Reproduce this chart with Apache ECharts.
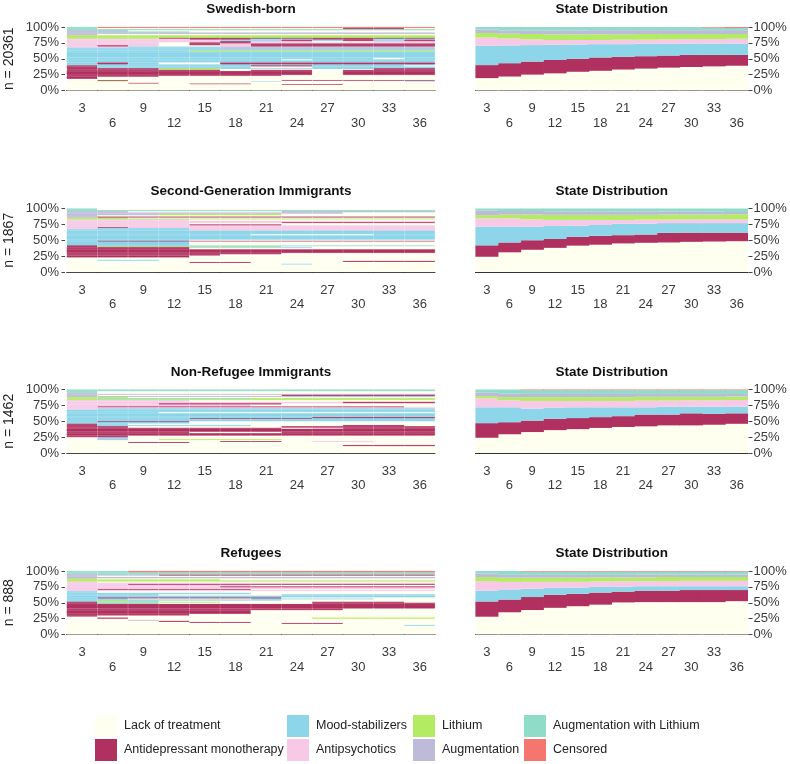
<!DOCTYPE html>
<html>
<head>
<meta charset="utf-8">
<script src="https://cdn.jsdelivr.net/npm/echarts@6/dist/echarts.min.js"></script>
<style>
  html, body { margin: 0; padding: 0; background: #fff; }
  #chart { width: 790px; height: 764px; }
</style>
</head>
<body>
<div id="chart"></div>
<script>
const periods = ['3', '6', '9', '12', '15', '18', '21', '24', '27', '30', '33', '36'];

const stateNames = ['Lack of treatment', 'Antidepressant monotherapy', 'Mood-stabilizers', 'Antipsychotics',
  'Lithium', 'Augmentation', 'Augmentation with Lithium', 'Censored'];
const stateCodes = ['L', 'A', 'M', 'P', 'T', 'G', 'W', 'C'];
const stateColors = ['#FFFFF0', '#B0305F', '#8DD6EA', '#F7C9E6', '#B3EB62', '#BEBADA', '#8FDCC8', '#F4766F'];

const groupNames = ['Swedish-born', 'Second-Generation Immigrants', 'Non-Refugee Immigrants', 'Refugees'];
const groupSizes = [20361, 1867, 1462, 888];

// sequence index plots: bands from bottom to top, [share %, state code per period]
const swedishSeq = [
  [9.0, 'LLLLLLLLLLLL'], [1.2, 'LLLLLLLAALLL'], [1.2, 'LLLLAALLLLLL'], [1.0, 'LLALLLLLLLLL'],
  [1.4, 'LLLLLLLLLLLL'], [1.0, 'LLLLLLMLLLLM'], [0.8, 'LTLLLLLLLLLL'], [1.0, 'LALLLLLAAAAA'],
  [1.8, 'LLLLLLLLLLLL'],
  [3.6, 'ALLLLLLLLLLL'], [1.5, 'AAALLLLLLLLL'], [1.0, 'AAAAAAALLLLL'], [6.5, 'AAAAAAAALAAA'],
  [2.0, 'AAAAALAALAAA'], [1.2, 'AAATTLLLLLAA'], [1.0, 'AAATTMMMMMAA'], [2.8, 'AMMMMMLLMMMM'],
  [1.8, 'AMMMMMAAMMML'],
  [1.5, 'MMMMMMMMMMMM'], [3.0, 'MAMLLAAAAAAA'], [3.5, 'MMMMMMMMMMMM'], [1.5, 'MMMMMMMLMMMM'],
  [2.5, 'MMMMMMMMMMLM'], [9.0, 'MMMMMMMMMMMM'], [2.0, 'MMMMTTTTTTTT'], [2.6, 'MMMMMMMMMMMM'],
  [2.5, 'MMMMMGGGGGGG'],
  [1.5, 'PPMMMGGGGGGG'], [2.0, 'PAPLLPAAAAAA'], [3.0, 'PPPLAPAAAAAA'], [1.5, 'PPPLAAPPPPPP'],
  [2.0, 'PPPPPAPPLLPP'], [2.5, 'PPPPPMMAMAMA'], [1.7, 'PPPPAAMMAAMM'],
  [1.0, 'TTTAAAAAAAAA'], [4.1, 'TTTTTTTTTTTT'],
  [2.0, 'GLLLLLLLLLLL'], [2.5, 'GGGGGGGGGGGG'], [1.5, 'GWWWLLLLLLLL'], [1.7, 'GGLLLLLLLLLL'],
  [2.0, 'WWWWWWWWWWWW'], [1.6, 'WLLLLLLLLAAL'], [1.5, 'WCCCCCCCCCCC']
];
const secondGenSeq = [
  [12.0, 'LLLLLLLLLLLL'], [1.5, 'LLLLLLLMLLLL'], [1.0, 'LLLLLLLLLLLL'], [1.5, 'LLLLAALLLLLL'],
  [2.0, 'LLLLLLLLLAAA'], [1.5, 'LMMLLLLLLLLL'], [3.5, 'LLLLLLLLLLLL'],
  [3.0, 'AAAALLLLLLLL'], [2.0, 'AAAAALLLLLLL'], [2.0, 'AAAAAAALLLLL'], [6.0, 'AAAAAAAAAAAA'],
  [2.5, 'AAAALLLLLLLL'], [1.5, 'AAAAMMMMLLLL'], [1.0, 'ATTTTTTLLLLL'], [1.0, 'AMMMMMMMMMMM'],
  [6.5, 'MMMMLLLLLLLL'], [1.0, 'MAAAAAAAAAAA'], [1.5, 'MMMMLLLLLLLL'], [7.0, 'MMMMMMMMMMMM'],
  [1.5, 'MMMMMMLLLLMM'], [6.0, 'MMMMMMMMMMMM'], [2.2, 'MMMMPPPPPPPP'],
  [2.0, 'PMMMPPPPPPPP'], [1.0, 'PAPPPPPPPPPP'], [3.0, 'PPPPPPPPPPPP'], [1.5, 'PPPPAAALLLLL'],
  [2.0, 'PPPPLLLLLLLL'], [1.5, 'PPPPPPPAAAAA'], [2.3, 'PPPPPPPPPPPP'], [2.0, 'PPPPLLLLLLLL'],
  [1.5, 'TTTTTTTTTTTT'], [1.5, 'TTLLLLLLLLLL'],
  [1.5, 'GAAAAAAAAAAA'], [2.0, 'GLLLLLLLLLLL'], [2.5, 'GGGTTTTLLLLL'], [2.0, 'GGGGGGGGGLLL'],
  [2.0, 'GGLLLLLGGGGG'],
  [2.0, 'WWWWWWWWWWWW'], [2.0, 'WLLLLLLLLLLL']
];
const nonRefugeeSeq = [
  [11.0, 'LLLLLLLLLLLL'], [2.0, 'LLLLLLLLLAAA'], [3.0, 'LLLLLLLLLLLL'], [1.5, 'LLAALLLLLLLL'],
  [1.5, 'LLLLLAALPPLL'], [1.5, 'LLLLLLLLLLLL'], [1.5, 'LGLTTTTLLLLL'], [3.0, 'LMLLLLLLLLLL'],
  [2.5, 'AALLLLLLLLLL'], [4.0, 'AAAAAAAAAAAA'], [2.0, 'AAAALLLAAAAA'], [5.0, 'AAAAAAAAAAAA'],
  [1.5, 'AAAAAAALPAAA'], [2.5, 'AALLLLLAAAAA'], [2.0, 'AMMMMMLLLAAL'], [2.0, 'AMLLLLLLLLLL'],
  [2.5, 'MMMMLLLLLLLL'], [1.0, 'MAAALLLLLLLL'], [4.0, 'MMMMMMMMMMMM'], [1.0, 'MMMMAAAAMMMM'],
  [2.0, 'MMMMMMMMAAAA'], [6.0, 'MMMMMMMMMMMM'], [1.5, 'MMMLLLLLLLLL'], [4.0, 'MMMMMMMMMMMM'],
  [2.0, 'PMMMMMMMMMMM'], [2.0, 'PPPPPPPPPPPP'], [1.0, 'PAAAAAAAAAAL'], [3.0, 'PPPPPPLLLLLL'],
  [2.0, 'PPPAAAALLLLL'], [2.5, 'PPPPPPPPPAAA'], [2.5, 'PPPPLLLLLLLL'],
  [2.0, 'TTTTTTTTTTTT'], [1.5, 'TWWWWWTTTTTT'], [1.5, 'TTLLLLLLLLLL'],
  [1.5, 'GGGGGGGGGGGG'], [2.0, 'GLLLLLLAAAAA'], [1.5, 'GGGGGGGGGGGG'], [1.5, 'GLLLLLLLLLLL'],
  [2.5, 'WLLLLLLLLLLL'], [2.5, 'WWWWWWWWWWWW']
];
const refugeeSeq = [
  [14.0, 'LLLLLLLLLLLL'], [1.5, 'LLLLLLLLLLLM'], [1.5, 'LLLLLLLLLLLL'], [1.5, 'LLLLLLLAALLL'],
  [1.5, 'LLLLAALLLLLL'], [2.0, 'LLLALLLLLLLL'], [1.5, 'LLGLLLLLLLLL'], [1.5, 'LLLLLLLLLLLL'],
  [2.0, 'LALLLLLLTTTT'], [1.5, 'LLLLLLLLLLLL'],
  [1.5, 'ALLLLLLLLLLL'], [2.5, 'AAAALLLLLLLL'], [6.0, 'AAAAAALLLLLL'], [2.5, 'AAAAAAAAALLL'],
  [7.5, 'AAAAAAAAAAAA'], [2.0, 'AMMLLLLLAAAA'], [1.5, 'ATTTTLLLAAAL'],
  [1.5, 'MTMLLLLLLLLL'], [2.0, 'MMMMMMMLLLLL'], [1.5, 'MMLLLLMMMMLL'], [1.5, 'MAAAAAALLLLL'],
  [3.0, 'MMMMMMMMMMMM'], [2.0, 'MMMLLLLMMMMM'], [2.5, 'MMMMMMLLLLLL'], [2.5, 'MLLLLLLLLLLL'],
  [2.0, 'PPPPPPPPPPPP'], [1.0, 'PAAAAALLLLLL'], [3.0, 'PPPPPPPPPPPP'], [1.5, 'PPPPPAAAAAAA'],
  [2.5, 'PPPPPPLLLLLL'], [1.5, 'PPAAAAAAAAAA'], [2.0, 'PPPPPPPPPPPP'], [1.5, 'PLLLLLLLLLLL'],
  [2.0, 'TTTTTTTTTTTT'], [1.5, 'TTTTTLLLLLLL'], [1.5, 'TLLLLLLLLLLL'],
  [2.5, 'GGGGGGGGGGGG'], [2.0, 'GLLLLLLLLLLL'], [1.5, 'GGGAAAAAAAAA'], [1.5, 'GWWWWWWWWWWW'],
  [2.0, 'WWWWWWWWWWWW'], [2.0, 'WWCCCCCCCCCC']
];

// state distributions, % per period, one row per state (same order as stateNames)
const swedishDist = [
  [19.5, 22, 25, 27, 29.5, 31, 33, 34.5, 36, 37, 38, 39],
  [20.5, 21, 20.5, 21, 20.5, 21, 20, 19.5, 19, 19, 18, 17],
  [30.5, 28, 26, 24, 22.5, 21, 20, 19.5, 18.5, 18, 18, 18],
  [13, 11, 9, 7.5, 7, 6.5, 7, 6.5, 7, 7, 7, 7.5],
  [7, 7.5, 8.5, 9, 9, 9, 8.5, 9, 8.5, 8, 8, 7.5],
  [5.5, 5, 5.5, 6, 6, 6.5, 6.5, 6, 6, 6, 6, 6],
  [4, 5.5, 5.5, 5.5, 5.5, 5, 5, 5, 5, 5, 4, 3.5],
  [0, 0, 0, 0, 0, 0, 0, 0, 0, 0, 1, 1.5]
];
const secondGenDist = [
  [24, 31, 35, 38, 41.5, 43, 45, 46, 46.5, 47.5, 48, 48.5],
  [18, 15.5, 15, 14, 14, 14, 13, 13, 15, 14.5, 14, 13.5],
  [29.5, 25, 21.5, 20.5, 17.5, 17, 18, 17, 15.5, 15, 15, 15],
  [13, 13, 11.5, 9.5, 9, 8, 6, 6.5, 5.5, 6, 6, 6],
  [5, 6, 7.5, 8, 8, 8, 8, 7.5, 8, 7.5, 7.5, 8],
  [7.5, 5.5, 5.5, 5.5, 5.5, 5.5, 5.5, 5.5, 5, 5, 4.5, 3.5],
  [3, 4, 4, 4.5, 4.5, 4.5, 4.5, 4.5, 4.5, 4.5, 5, 5.5],
  [0, 0, 0, 0, 0, 0, 0, 0, 0, 0, 0, 0]
];
const nonRefugeeDist = [
  [24, 29.5, 33, 36, 37.5, 39.5, 41, 42, 43.5, 43.5, 44.5, 46],
  [23, 19, 18, 18, 17.5, 17, 17, 18.5, 17, 19, 17, 16.5],
  [25, 23.5, 19, 17, 17, 15.5, 14, 11.5, 12.5, 10.5, 11.5, 10.5],
  [14, 11, 12, 11, 10, 10, 10, 10.5, 9.5, 10, 10, 10.5],
  [3.5, 5, 6, 6, 6, 6, 6, 6, 6, 5.5, 5.5, 5.5],
  [5.5, 5.5, 5, 5, 5, 5, 5, 4.5, 4.5, 4.5, 4.5, 4],
  [5, 6.5, 6, 6, 6, 6, 6, 6, 6, 6, 6, 6],
  [0, 0, 1, 1, 1, 1, 1, 1, 1, 1, 1, 1]
];
const refugeeDist = [
  [28, 35, 38.5, 42, 44.5, 47, 50.5, 51, 51, 51, 51, 52.5],
  [24, 20, 20.5, 20.5, 19.5, 19, 17, 18, 18, 19, 19, 17.5],
  [17, 16, 13, 11, 10, 9, 7.5, 7, 7, 6, 6, 6],
  [15, 12, 11, 9.5, 9, 8.5, 9, 8, 8, 8.5, 8.5, 8.5],
  [6.5, 6.5, 6.5, 6.5, 6.5, 6.5, 6, 6, 6.5, 6, 6, 6],
  [5.5, 4.5, 4.5, 4.5, 4.5, 4, 4, 4.5, 4, 4, 4, 4],
  [4, 6, 5, 5, 5, 5, 5, 4.5, 4.5, 4.5, 4.5, 4.5],
  [0, 0, 1, 1, 1, 1, 1, 1, 1, 1, 1, 1]
];

const seqData = [swedishSeq, secondGenSeq, nonRefugeeSeq, refugeeSeq];
const distData = [swedishDist, secondGenDist, nonRefugeeDist, refugeeDist];

const font = 'Liberation Sans, Arial, Helvetica, sans-serif';
const rowTops = [27, 208.5, 389.5, 571];
const plotH = 63.5;
const labelColor = '#3a3a3a';

function xAxisFor(gi) {
  return {
    gridIndex: gi,
    type: 'category',
    data: periods,
    offset: 2.7,
    axisLine: { lineStyle: { color: '#333', width: 1 } },
    axisTick: { alignWithLabel: true, interval: 0, length: 3, lineStyle: { color: '#333' } },
    axisLabel: {
      interval: 0, margin: 8, fontSize: 13, lineHeight: 14.5, color: labelColor, fontFamily: font,
      formatter: (v, i) => (i % 2 ? '\n' + v : v)
    },
    splitLine: { show: false }
  };
}

// sequence cells: fill plus a hairline of the same colour so equal neighbours merge
function seqCell(value, color) {
  return { value: value, itemStyle: { color: color, borderColor: color, borderWidth: 0.7 } };
}

// distribution cells: plain fill, empty cells hidden
function distCell(value, color) {
  return { value: value, itemStyle: { color: color, borderWidth: 0, opacity: value > 0 ? 1 : 0 } };
}

let grids = [], xAxes = [], yAxes = [], series = [], titles = [];

rowTops.forEach((top, g) => {
  grids.push({ left: 66.7, top: top, width: 368.3, height: plotH });
  grids.push({ left: 475.4, top: top, width: 272.6, height: plotH });

  xAxes.push(xAxisFor(2 * g));
  xAxes.push(xAxisFor(2 * g + 1));

  yAxes.push({
    gridIndex: 2 * g, type: 'value', min: 0, max: 100, interval: 25, position: 'left', offset: 1.7,
    axisLine: { show: false },
    axisTick: { show: true, length: 3.5, lineStyle: { color: '#444' } },
    axisLabel: { formatter: '{value}%', margin: 6, fontSize: 13, color: labelColor, fontFamily: font },
    splitLine: { show: false },
    name: 'n = ' + groupSizes[g], nameLocation: 'middle', nameRotate: 90, nameGap: 49,
    nameTextStyle: { fontSize: 14, color: '#222', fontFamily: font }
  });
  yAxes.push({
    gridIndex: 2 * g + 1, type: 'value', min: 0, max: 100, interval: 25, position: 'right', offset: 0.5,
    axisLine: { show: false },
    axisTick: { show: true, length: 4, lineStyle: { color: '#444' } },
    axisLabel: { formatter: '{value}%', margin: 5, fontSize: 13, color: labelColor, fontFamily: font },
    splitLine: { show: false }
  });

  titles.push({
    text: groupNames[g], left: 251, top: top - 24.5, textAlign: 'center', padding: 0,
    textStyle: { fontSize: 13.5, fontWeight: 'bold', color: '#111', fontFamily: font }
  });
  titles.push({
    text: 'State Distribution', left: 611.7, top: top - 24.5, textAlign: 'center', padding: 0,
    textStyle: { fontSize: 13.5, fontWeight: 'bold', color: '#111', fontFamily: font }
  });

  // sequence index plot
  seqData[g].forEach((band) => {
    series.push({
      type: 'bar', xAxisIndex: 2 * g, yAxisIndex: 2 * g, stack: 'seq' + g,
      barCategoryGap: '0%', silent: true,
      data: band[1].split('').map((c) => seqCell(band[0], stateColors[stateCodes.indexOf(c)]))
    });
  });

  // state distribution (bars a touch wider than the band so columns meet without seams)
  distData[g].forEach((vals, s) => {
    series.push({
      type: 'bar', name: stateNames[s], xAxisIndex: 2 * g + 1, yAxisIndex: 2 * g + 1, stack: 'dist' + g,
      barWidth: 23.4, silent: true,
      itemStyle: { color: stateColors[s] },
      data: vals.map((v) => distCell(v, stateColors[s]))
    });
  });
});

const legendLefts = [95, 287, 413, 524];
const legends = legendLefts.map((left, c) => ({
  orient: 'vertical', left: left, top: 715, padding: 0,
  itemWidth: 22, itemHeight: 22, itemGap: 2, icon: 'rect', selectedMode: false,
  itemStyle: { borderWidth: 0, opacity: 1 },
  data: [stateNames[2 * c], stateNames[2 * c + 1]],
  textStyle: { fontSize: 12.5, color: '#222', fontFamily: font, padding: [0, 0, 0, 2] }
}));

const chart = echarts.init(document.getElementById('chart'), null, { renderer: 'canvas' });
chart.setOption({
  animation: false,
  backgroundColor: '#fff',
  title: titles,
  legend: legends,
  grid: grids,
  xAxis: xAxes,
  yAxis: yAxes,
  series: series
});
</script>
</body>
</html>
